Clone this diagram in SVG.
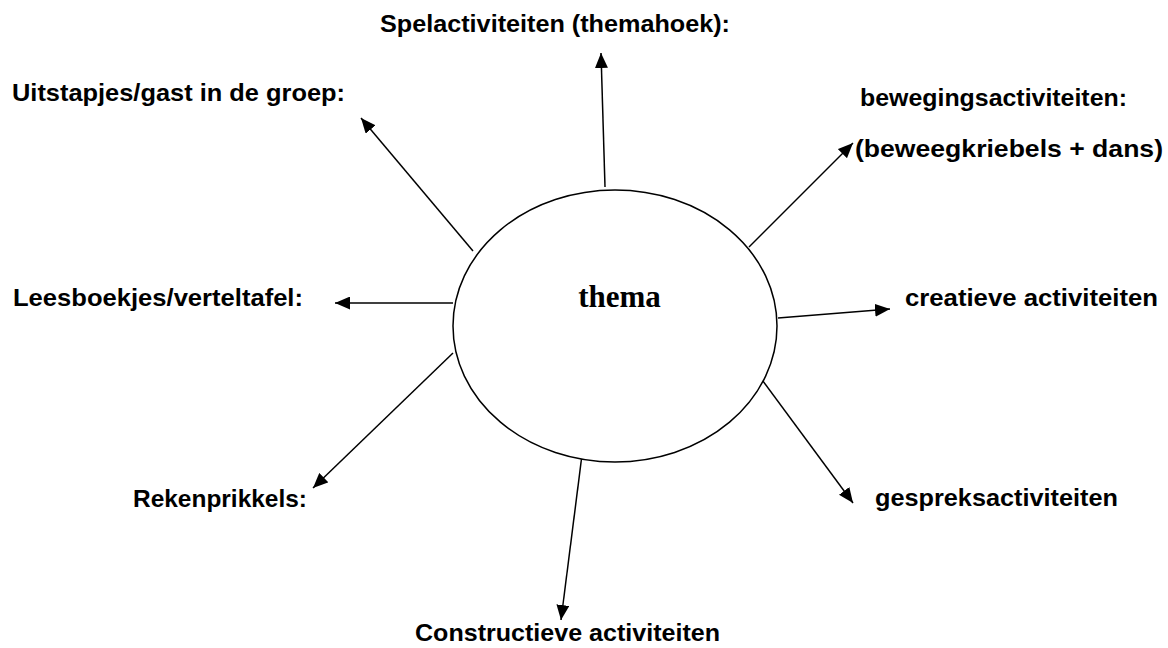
<svg xmlns="http://www.w3.org/2000/svg" width="1168" height="648" viewBox="0 0 1168 648">
<style>
.lbl{font-family:"Liberation Sans",Arial,sans-serif;font-weight:bold;font-size:24px;fill:#000}
.ctr{font-family:"Liberation Serif","Times New Roman",serif;font-weight:bold;font-size:31px;fill:#000}
.edge{stroke:#000;stroke-width:1.5;fill:none;marker-end:url(#ah)}
</style>
<defs>
<marker id="ah" markerUnits="userSpaceOnUse" markerWidth="16" markerHeight="13" refX="15" refY="6.5" orient="auto" viewBox="0 0 16 13">
<path d="M0,0 L15,6.5 L0,13 z" fill="#000"/>
</marker>
</defs>
<rect width="1168" height="648" fill="#fff"/>
<g id="connectors">
<line class="edge" x1="605" y1="187" x2="601" y2="53"/>
<line class="edge" x1="473" y1="251" x2="361" y2="118"/>
<line class="edge" x1="749" y1="247" x2="853" y2="143"/>
<line class="edge" x1="778" y1="318" x2="890" y2="309"/>
<line class="edge" x1="760" y1="377" x2="853" y2="503"/>
<line class="edge" x1="583" y1="447" x2="561" y2="620"/>
<line class="edge" x1="453" y1="303" x2="335" y2="303"/>
<line class="edge" x1="453" y1="353" x2="313" y2="488"/>
</g>
<g id="thema">
<ellipse cx="615" cy="326" rx="162" ry="136" fill="#fff" stroke="#000" stroke-width="1.5"/>
<text class="ctr" x="619.5" y="307" text-anchor="middle">thema</text>
</g>
<g id="spel"><text class="lbl" x="380" y="32" textLength="350" lengthAdjust="spacingAndGlyphs">Spelactiviteiten (themahoek):</text></g>
<g id="uitstapjes"><text class="lbl" x="12" y="101" textLength="333" lengthAdjust="spacingAndGlyphs">Uitstapjes/gast in de groep:</text></g>
<g id="beweging">
<text class="lbl" x="860" y="106" textLength="267" lengthAdjust="spacingAndGlyphs">bewegingsactiviteiten:</text>
<text class="lbl" x="855" y="157" textLength="308" lengthAdjust="spacingAndGlyphs">(beweegkriebels + dans)</text>
</g>
<g id="lees"><text class="lbl" x="13" y="306" textLength="290" lengthAdjust="spacingAndGlyphs">Leesboekjes/verteltafel:</text></g>
<g id="creatief"><text class="lbl" x="905" y="306" textLength="253" lengthAdjust="spacingAndGlyphs">creatieve activiteiten</text></g>
<g id="reken"><text class="lbl" x="133" y="507" textLength="174" lengthAdjust="spacingAndGlyphs">Rekenprikkels:</text></g>
<g id="gesprek"><text class="lbl" x="875" y="506" textLength="243" lengthAdjust="spacingAndGlyphs">gespreksactiviteiten</text></g>
<g id="constructief"><text class="lbl" x="415" y="641" textLength="305" lengthAdjust="spacingAndGlyphs">Constructieve activiteiten</text></g>
</svg>
